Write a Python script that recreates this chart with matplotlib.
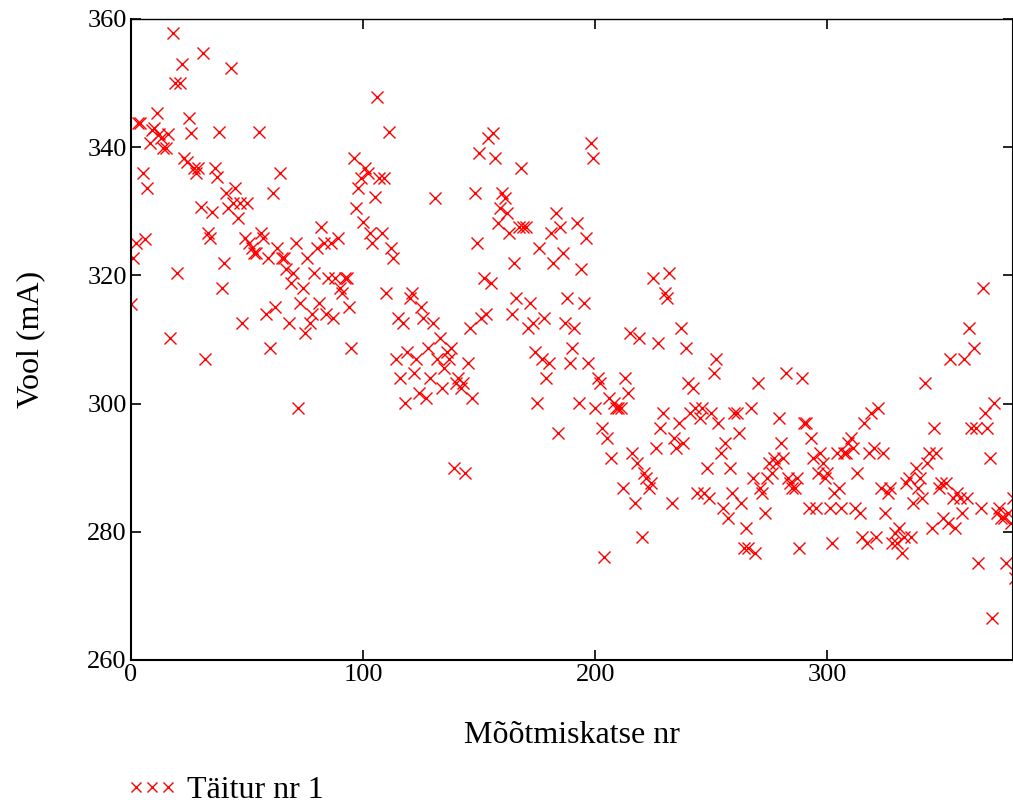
import numpy as np
import matplotlib
matplotlib.use("Agg")
import matplotlib.pyplot as plt
from matplotlib.lines import Line2D

vool = [
    315.5, 322.7, 325.0, 343.7, 343.7, 336.0, 325.7, 333.6, 340.6, 342.7,
    343.0, 345.3, 342.0, 341.4, 339.8, 339.8, 342.0, 310.2, 357.8, 350.0,
    320.4, 350.0, 353.0, 338.3, 337.7, 344.5, 342.2, 336.7, 336.0, 336.7,
    330.7, 354.7, 307.0, 326.6, 325.8, 329.9, 336.7, 335.3, 342.4, 318.0,
    321.9, 332.9, 330.5, 352.3, 331.3, 333.6, 329.0, 331.3, 312.6, 325.8,
    331.3, 325.0, 324.3, 323.5, 323.5, 342.4, 326.6, 325.8, 314.0, 322.7,
    308.7, 332.9, 315.0, 324.3, 336.0, 322.7, 322.7, 321.0, 312.6, 318.8,
    320.4, 325.0, 299.3, 315.7, 318.0, 311.0, 322.7, 312.6, 314.0, 320.4,
    324.3, 315.7, 327.5, 325.0, 314.0, 319.6, 325.0, 313.4, 319.6, 325.8,
    318.0, 317.3, 319.6, 319.6, 315.0, 308.7, 338.3, 330.5, 333.6, 335.2,
    328.3, 336.7, 336.0, 326.6, 325.0, 332.2, 347.8, 335.2, 326.6, 335.2,
    317.3, 342.4, 324.3, 322.7, 307.0, 313.4, 304.0, 312.6, 300.1, 308.0,
    316.5, 317.3, 304.8, 307.0, 301.6, 315.0, 313.4, 300.9, 308.7, 304.0,
    312.6, 332.1, 307.0, 310.2, 302.4, 305.5, 308.0, 307.0, 308.7, 290.0,
    303.2, 304.0, 302.4, 303.2, 289.2, 306.3, 311.8, 300.9, 332.9, 325.0,
    339.1, 313.4, 319.6, 314.0, 341.4, 318.8, 342.2, 338.3, 328.2, 330.5,
    332.9, 332.1, 329.7, 326.6, 314.0, 321.9, 316.5, 327.5, 336.7, 327.5,
    327.5, 311.8, 315.7, 312.6, 308.0, 300.1, 324.3, 307.0, 313.4, 304.0,
    306.3, 326.6, 321.9, 329.7, 295.4, 327.5, 323.5, 312.6, 316.5, 306.3,
    308.7, 311.8, 328.2, 300.1, 321.0, 315.7, 325.8, 306.3, 340.6, 338.3,
    299.3, 304.0, 303.2, 296.2, 276.0, 294.6, 300.9, 291.5, 300.1, 299.3,
    299.3, 299.3, 286.8, 304.0, 301.6, 311.0, 292.3, 284.5, 290.7, 310.2,
    279.2, 289.2, 288.4, 286.8, 287.6, 319.6, 293.0, 309.4, 296.2, 298.5,
    317.3, 316.5, 320.4, 284.5, 294.6, 293.1, 297.0, 311.8, 293.9, 308.7,
    303.2, 298.5, 302.4, 299.3, 286.0, 297.8, 299.3, 286.0, 290.0, 285.3,
    298.5, 304.8, 307.0, 297.0, 292.3, 283.7, 293.9, 282.2, 290.0, 286.0,
    298.5, 298.5, 295.4, 284.5, 277.5, 280.6, 277.5, 299.3, 288.4, 276.7,
    303.2, 286.8, 286.0, 283.0, 288.4, 290.7, 289.2, 291.5, 290.7, 297.8,
    293.9, 291.5, 304.8, 288.4, 287.6, 286.8, 286.8, 288.4, 277.5, 304.0,
    297.0, 297.0, 283.7, 294.6, 291.5, 283.7, 289.2, 292.3, 290.7, 288.4,
    289.2, 283.7, 278.3, 286.0, 292.3, 286.8, 283.7, 292.3, 292.3, 293.9,
    294.6, 293.1, 283.7, 289.2, 283.0, 279.2, 297.0, 278.3, 292.3, 298.5,
    293.1, 279.2, 299.3, 286.8, 292.3, 283.0, 286.0, 286.8, 278.3, 279.8,
    278.3, 280.6, 276.7, 279.2, 287.6, 288.4, 279.2, 284.5, 290.0, 286.8,
    288.4, 285.3, 303.2, 290.7, 292.3, 280.6, 296.2, 292.3, 286.8, 287.6,
    282.2, 287.6, 281.4, 307.0, 285.3, 280.6, 286.0, 285.3, 283.0, 307.0,
    285.3, 311.8, 296.2, 308.7, 296.2, 275.1, 283.7, 318.0, 298.5, 296.2,
    291.5, 266.5, 300.1, 283.0, 283.7, 282.2, 282.2, 275.1, 283.0, 281.4,
    285.3, 272.8,
]
nr = np.arange(len(vool))

x_ticks = [0, 100, 200, 300]
y_ticks = [260, 280, 300, 320, 340, 360]

plt.rcParams['font.family'] = ['Liberation Serif', 'DejaVu Serif']

fig = plt.figure(figsize=(10.13, 8.07), dpi=100)
ax = fig.add_axes([0.1293, 0.1822, 0.8707, 0.7943])

ax.plot(nr, vool, linestyle='none', marker='x', color='red',
        markersize=8.5, markeredgewidth=1.0)

ax.set_xlim(0, 380)
ax.set_ylim(260, 360)
ax.set_xticks(x_ticks)
ax.set_yticks(y_ticks)
ax.tick_params(direction='in', length=7, width=1.2, top=True, right=True,
               labelsize=19, pad=3, colors='black')
for s in ax.spines.values():
    s.set_linewidth(1.5)
ax.spines['top'].set_linewidth(1.0)

ax.set_xlabel('Mõõtmiskatse nr', fontsize=23, labelpad=25)
ax.set_ylabel('Vool (mA)', fontsize=23, labelpad=30)

handle = Line2D([], [], linestyle='none', marker='x', color='red',
                markersize=7, markeredgewidth=1.0)
fig.legend([handle], ['Täitur nr 1'], loc='center left', numpoints=3,
           bbox_to_anchor=(0.112, 0.021), frameon=False, fontsize=23,
           handlelength=1.6, handletextpad=0.3, borderaxespad=0)

fig.savefig('out.png', dpi=100)
